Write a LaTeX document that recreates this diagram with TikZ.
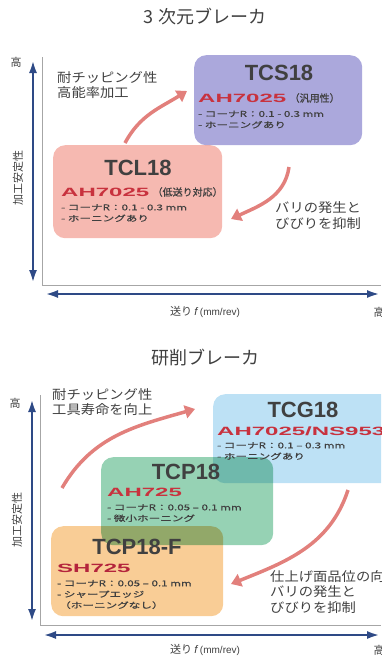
\documentclass[tikz,border=0pt]{standalone}
\usepackage{fontspec}
\usepackage{graphicx}
\setmainfont{Noto Sans CJK JP}
\newfontfamily\latinfont{Liberation Sans}
\newfontfamily\specfont{Noto Sans CJK JP}[FakeStretch=1.45,FakeBold=1]
\newfontfamily\parenfont{Noto Sans CJK JP}[FakeBold=1]
\newfontfamily\notefont{Noto Sans CJK JP}[FakeStretch=1.1]
\usetikzlibrary{positioning,arrows.meta}

\definecolor{axisblue}{HTML}{2E4A86}
\definecolor{flowred}{HTML}{E2807C}
\definecolor{gradered}{HTML}{C8323E}
\definecolor{sharpred}{HTML}{B4243C}
\definecolor{inkgray}{HTML}{404040}
\definecolor{tcsfill}{HTML}{ABA8DC}
\definecolor{tclfill}{HTML}{F6B9B1}
\definecolor{tcgfill}{HTML}{BDE1F5}
\definecolor{tcpfill}{HTML}{96D2B4}
\definecolor{tcpffill}{HTML}{F9CD96}

\newcommand{\gradelabel}[1]{\scalebox{2}[1]{\latinfont\bfseries #1}}

\begin{document}
\begin{tikzpicture}[
    x=1pt, y=1pt,
    every node/.style={inner sep=0pt, text=inkgray},
    box_node/.style={rounded corners=12pt, anchor=north west, inner sep=0pt},
    title_node/.style={font=\fontsize{18}{20}\selectfont},
    name_node/.style={font=\latinfont\bfseries\fontsize{22}{24}\selectfont},
    grade_node/.style={anchor=west, text=gradered, font=\fontsize{12}{12}\selectfont},
    paren_node/.style={font=\parenfont\fontsize{10}{11}\selectfont},
    spec_node/.style={anchor=west, align=left, font=\specfont\fontsize{8}{11}\selectfont},
    note_node/.style={anchor=west, align=left, font=\notefont\fontsize{13}{15.5}\selectfont},
    axis_label/.style={font=\fontsize{11}{12}\selectfont},
    axis_arrow/.style={draw=axisblue, line width=2.6pt, {Latex[length=13pt,width=8pt]}-{Latex[length=13pt,width=8pt]}},
    flow_arrow/.style={draw=flowred, line width=3.5pt, -{Triangle[length=10pt,width=13pt]}},
    frame_line/.style={draw=gray!70, line width=0.8pt}
]
\useasboundingbox (0,0) rectangle (381,-656);
\clip (0,0) rectangle (381,-656);

% ---- 3D breaker ----
\node[title_node] (title3d) at (205,-17) {3 次元ブレーカ};
\draw[frame_line] (42,-57) -- (42,-285) -- (381,-285);

\coordinate (vtop3d) at (33,-60);
\coordinate (vbot3d) at (33,-283);
\coordinate (hleft3d) at (45,-294);
\coordinate (hright3d) at (380,-294);
\draw[axis_arrow] (vbot3d) -- (vtop3d);
\draw[axis_arrow] (hleft3d) -- (hright3d);
\node[axis_label] (vhigh3d) at (16,-62) {高};
\node[axis_label, rotate=90] (vname3d) at (18,-178) {加工安定性};
\node[axis_label] (hname3d) at (205,-312) {送り {\latinfont\itshape f} {\latinfont\fontsize{10}{11}\selectfont(mm/rev)}};
\node[axis_label] (hhigh3d) at (379,-312) {高};

\begin{scope}[blend mode=multiply]
\node[box_node, fill=tclfill, minimum width=169pt, minimum height=93pt] (tcl) at (53,-145) {};
\node[box_node, fill=tcsfill, minimum width=168pt, minimum height=90pt] (tcs) at (194,-55) {};
\end{scope}

% TCS18
\node[name_node] (tcsname) at (279,-73) {TCS18};
\node[grade_node] (tcsgrade) at (198,-98) {\gradelabel{AH7025}};
\node[paren_node, right=3pt of tcsgrade] (tcsparen) {（汎用性）};
\node[spec_node] (tcsspec) at (198,-119.5) {- コーナR：0.1 - 0.3 mm\\- ホーニングあり};

% TCL18
\node[name_node] (tclname) at (138,-168) {TCL18};
\node[grade_node] (tclgrade) at (61,-192) {\gradelabel{AH7025}};
\node[paren_node, right=3pt of tclgrade] (tclparen) {（低送り対応）};
\node[spec_node] (tclspec) at (61,-213) {- コーナR：0.1 - 0.3 mm\\- ホーニングあり};

\node[note_node] (note3dup) at (57,-85) {耐チッピング性\\高能率加工};
\node[note_node] (note3ddown) at (275,-215.5) {バリの発生と\\びびりを抑制};

\coordinate (up3ds) at (125,-143);
\coordinate (up3de) at (187,-91);
\coordinate (down3ds) at (289,-167);
\coordinate (down3de) at (231,-219);
\draw[flow_arrow] (up3ds) to[out=62, in=212] (up3de);
\draw[flow_arrow] (down3ds) to[out=-98, in=25] (down3de);

% ---- grinding breaker ----
\node[title_node] (titlegr) at (205,-358) {研削ブレーカ};
\draw[frame_line] (40,-395) -- (40,-625) -- (381,-625);

\coordinate (vtopgr) at (32,-399);
\coordinate (vbotgr) at (32,-622);
\coordinate (hleftgr) at (43,-635);
\coordinate (hrightgr) at (380,-635);
\draw[axis_arrow] (vbotgr) -- (vtopgr);
\draw[axis_arrow] (hleftgr) -- (hrightgr);
\node[axis_label] (vhighgr) at (15,-403) {高};
\node[axis_label, rotate=90] (vnamegr) at (17,-520) {加工安定性};
\node[axis_label] (hnamegr) at (205,-650) {送り {\latinfont\itshape f} {\latinfont\fontsize{10}{11}\selectfont(mm/rev)}};
\node[axis_label] (hhighgr) at (379,-650) {高};

\begin{scope}[blend mode=multiply]
\node[box_node, fill=tcgfill, minimum width=185pt, minimum height=89pt] (tcg) at (213,-394) {};
\node[box_node, fill=tcpfill, minimum width=172pt, minimum height=88pt] (tcp) at (101,-457) {};
\node[box_node, fill=tcpffill, minimum width=172pt, minimum height=90pt] (tcpf) at (51,-526) {};
\end{scope}

% TCG18
\node[name_node] (tcgname) at (303,-410) {TCG18};
\node[grade_node] (tcggrade) at (217,-431) {\gradelabel{AH7025/NS9530}};
\node[spec_node] (tcgspec) at (217,-451) {- コーナR：0.1 – 0.3 mm\\- ホーニングあり};

% TCP18
\node[name_node] (tcpname) at (186,-472) {TCP18};
\node[grade_node] (tcpgrade) at (107,-492) {\gradelabel{AH725}};
\node[spec_node] (tcpspec) at (107,-513) {- コーナR：0.05 – 0.1 mm\\- 微小ホーニング};

% TCP18-F
\node[name_node] (tcpfname) at (137,-547) {TCP18-F};
\node[grade_node, text=sharpred] (tcpfgrade) at (57,-568) {\gradelabel{SH725}};
\node[spec_node] (tcpfspec) at (57,-594.5) {- コーナR：0.05 – 0.1 mm\\- シャープエッジ\\\hspace*{2pt}（ホーニングなし）};

\node[note_node] (notegrup) at (52,-402) {耐チッピング性\\工具寿命を向上};
\node[note_node] (notegrdown) at (270,-592) {仕上げ面品位の向上\\バリの発生と\\びびりを抑制};

\coordinate (upgrs) at (62,-488);
\coordinate (upgre) at (195,-409);
\coordinate (downgrs) at (348,-490);
\coordinate (downgre) at (231,-584);
\draw[flow_arrow] (upgrs) to[out=60, in=196] (upgre);
\draw[flow_arrow] (downgrs) to[out=-108, in=22] (downgre);

\end{tikzpicture}
\end{document}
